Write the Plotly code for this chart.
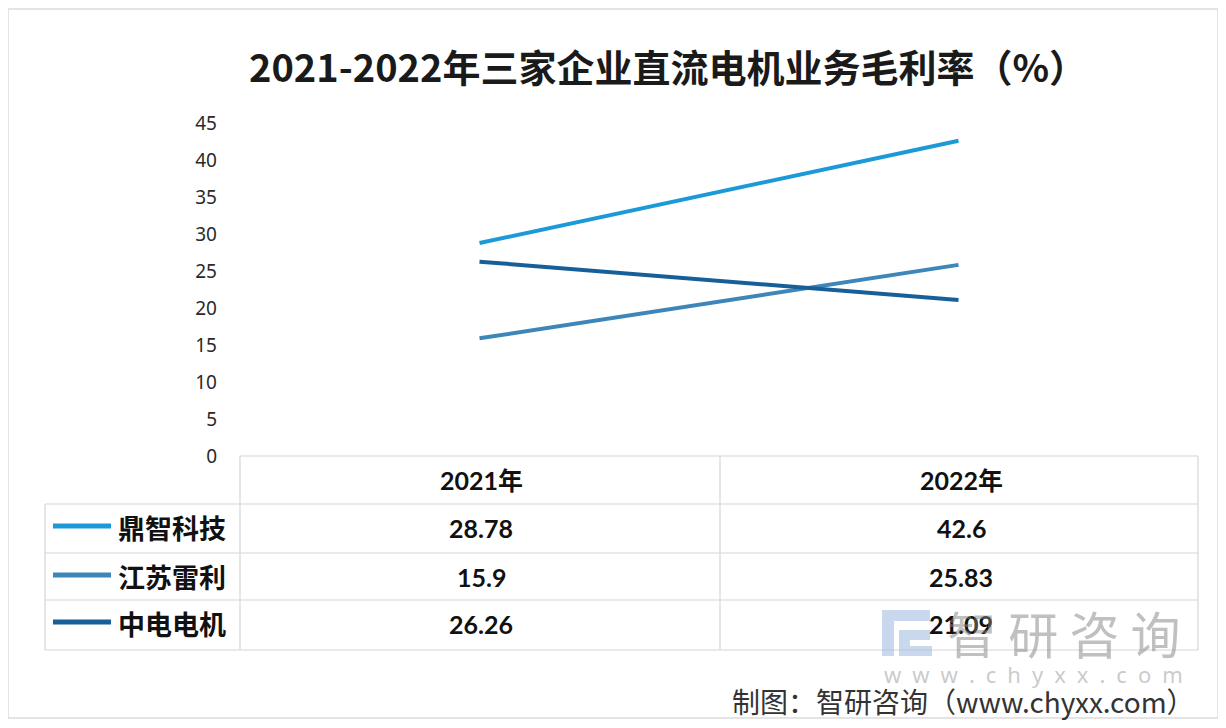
import plotly.graph_objects as go

# ---- data ----
years = ["2021年", "2022年"]
companies = ["鼎智科技", "江苏雷利", "中电电机"]
dingzhi = [28.78, 42.6]
jiangsu_leili = [15.9, 25.83]
zhongdian = [26.26, 21.09]
series_values = [dingzhi, jiangsu_leili, zhongdian]
value_labels = [["28.78", "42.6"], ["15.9", "25.83"], ["26.26", "21.09"]]
colors = ["#1c9ad8", "#3d86b9", "#165f98"]
y_ticks = [0, 5, 10, 15, 20, 25, 30, 35, 40, 45]

# page has an 8px body margin: size the figure so the page is 1226x728
OFF = 8
W, H = 1226 - 2 * OFF, 728 - 2 * OFF
def px(x):
    return (x - OFF) / W
def py(y):
    return 1 - (y - OFF) / H

CJK = "Noto Sans CJK SC"
NUM = "Lato, Noto Sans CJK SC"

fig = go.Figure()
for name, vals, col in zip(companies, series_values, colors):
    fig.add_trace(go.Scatter(
        x=[0, 1], y=vals, mode="lines", name=name,
        line=dict(color=col, width=4), showlegend=False,
        hoverinfo="x+y+name"))

plot_left, plot_right = 240, 1198
y0_px, y45_px = 456, 123

fig.update_layout(
    width=W, height=H, autosize=False,
    margin=dict(l=0, r=0, t=0, b=0, autoexpand=False),
    paper_bgcolor="white", plot_bgcolor="white",
    xaxis=dict(domain=[px(plot_left), px(plot_right)], range=[-0.5, 1.5],
               showticklabels=False, showgrid=False, zeroline=False,
               showline=False, fixedrange=True, automargin=False),
    yaxis=dict(domain=[py(y0_px), py(y45_px)], range=[0, 45],
               tickvals=y_ticks, showgrid=False, zeroline=False,
               showline=False, ticks="", ticklabelstandoff=22, automargin=False,
               tickfont=dict(family="Noto Sans", size=19, color="#2a2a2a")),
    font=dict(family=CJK),
)

shapes = []
annos = []
grid_col = "#d6d6d6"

def text(t, x, y, size, color="#111", family=CJK, xanchor="center"):
    annos.append(dict(text=t, x=px(x), y=py(y), xref="paper", yref="paper",
                      showarrow=False, xanchor=xanchor, yanchor="middle",
                      font=dict(family=family, size=size, color=color)))

# outer frame
shapes.append(dict(type="rect", xref="paper", yref="paper",
                   x0=px(8), x1=px(1218), y0=py(718), y1=py(9),
                   line=dict(color="#dcdcdc", width=1.5)))

# title
text("<b>2021-2022年三家企业直流电机业务毛利率（%）</b>", 668, 65, 38, "#1a1a1a")

# table geometry
tbl_left, col1, tbl_right = 45, 240, 1198
row_lines = [456, 504, 553, 600, 650]
row_centers = [480, 528, 577, 624]
col_centers = [481, 961]

for i, yl in enumerate(row_lines):
    x0 = col1 if i == 0 else tbl_left
    shapes.append(dict(type="line", xref="paper", yref="paper",
                       x0=px(x0), x1=px(tbl_right), y0=py(yl), y1=py(yl),
                       line=dict(color=grid_col, width=1.2)))
shapes.append(dict(type="line", xref="paper", yref="paper",
                   x0=px(tbl_left), x1=px(tbl_left), y0=py(row_lines[1]), y1=py(row_lines[-1]),
                   line=dict(color=grid_col, width=1.2)))
for xl in [col1, 720, tbl_right]:
    shapes.append(dict(type="line", xref="paper", yref="paper",
                       x0=px(xl), x1=px(xl), y0=py(row_lines[0]), y1=py(row_lines[-1]),
                       line=dict(color=grid_col, width=1.2)))

for yr, cx in zip(years, col_centers):
    text(f"<b>{yr}</b>", cx, row_centers[0], 25, family=NUM)

for i, (name, col, labs) in enumerate(zip(companies, colors, value_labels)):
    yc = row_centers[i + 1]
    shapes.append(dict(type="line", xref="paper", yref="paper",
                       x0=px(53), x1=px(111), y0=py(yc - 2), y1=py(yc - 2),
                       line=dict(color=col, width=5)))
    text(f"<b>{name}</b>", 116, yc - 1, 27, xanchor="left")
    for lab, cx in zip(labs, col_centers):
        text(f"<b>{lab}</b>", cx, yc, 25, family=NUM)

# watermark (logo blocks + faint text)
logo_col = "rgba(150,178,222,0.5)"
for (x0, x1, y0, y1) in [(882, 930, 610, 621), (882, 894, 621, 656),
                         (899, 930, 630, 640), (899, 910, 640, 656), (910, 932, 646, 656)]:
    shapes.append(dict(type="rect", xref="paper", yref="paper",
                       x0=px(x0), x1=px(x1), y0=py(y1), y1=py(y0),
                       fillcolor=logo_col, line=dict(width=0)))
text("智 研 咨 询", 1064, 632, 50, "rgba(130,130,130,0.5)")
text("w\u2002w\u2002w\u2002.\u2002c\u2002h\u2002y\u2002x\u2002x\u2002.\u2002c\u2002o\u2002m",
     1033, 674, 22, "rgba(150,150,150,0.5)", family="Noto Sans")

# footer
text("制图：智研咨询（www.chyxx.com）", 1197, 701, 28, "#333", xanchor="right")

fig.update_layout(shapes=shapes, annotations=annos)
fig.write_html("out.html")
